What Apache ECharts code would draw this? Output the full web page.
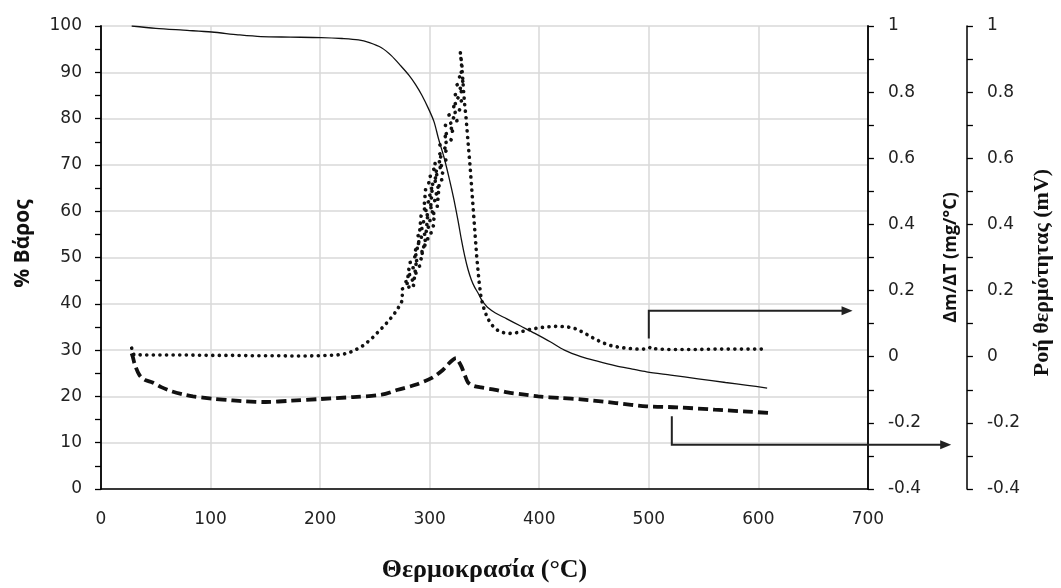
<!DOCTYPE html>
<html>
<head>
<meta charset="utf-8">
<script src="https://cdn.jsdelivr.net/npm/echarts@6/dist/echarts.min.js"></script>
<style>
html,body{margin:0;padding:0;background:#fff;}
#chart{width:1061px;height:588px;}
</style>
</head>
<body>
<div id="chart"></div>
<script>
// ---- Data ----
// TG curve: % weight vs temperature (left axis)
const tgTemp = [28, 50, 75, 101, 125, 146, 173, 201, 220, 235, 245, 256, 265, 274, 281, 287, 293, 299, 304, 308, 313, 317, 320, 323, 326, 329, 332, 335, 338, 341, 344, 347, 350, 353, 360, 370, 383, 396, 410, 423, 438, 453, 470, 485, 498, 520, 545, 570, 590, 608];
const tgWeight = [100, 99.5, 99.1, 98.7, 98.1, 97.7, 97.6, 97.5, 97.3, 97.0, 96.4, 95.3, 93.6, 91.3, 89.4, 87.4, 85.0, 82.1, 79.3, 75.7, 71.7, 67.9, 64.8, 61.5, 57.8, 53.8, 50.3, 47.4, 45.2, 43.6, 42.4, 41.0, 40.0, 39.2, 38.0, 36.8, 35.2, 33.6, 31.8, 30.0, 28.6, 27.6, 26.6, 25.9, 25.3, 24.6, 23.8, 23.0, 22.4, 21.8];

// DTG curve: Δm/ΔT (mg/°C) (first right axis); the noisy peak region is traced as a scattered band
const dtgTemp = [28, 30, 40, 60, 80, 100, 120, 140, 160, 180, 200, 215, 225, 232, 240, 248, 256, 263, 270, 275,
  275, 286, 276, 288, 278, 290, 280, 292, 282, 293, 284, 296, 285, 298, 287, 300, 288, 302, 289, 304, 290, 305, 292, 306, 293, 307, 294, 309, 295, 310, 296, 311, 298, 311, 300, 312, 302, 313, 304, 315,
  307, 317, 309, 320, 312, 323, 314, 326, 317, 328, 320, 330, 322, 331, 324, 331, 326, 330,
  328, 330, 331, 332, 333, 335, 337, 339, 341, 343, 345, 347, 350, 353, 357, 362, 368, 375, 383, 392, 401, 410, 418, 426, 434, 442, 450, 458, 466, 474, 482, 490, 498, 500, 502, 506, 515, 530, 545, 560, 575, 590, 607];
const dtgValue = [0.026, 0.006, 0.005, 0.005, 0.005, 0.004, 0.004, 0.003, 0.003, 0.002, 0.003, 0.005, 0.01, 0.02, 0.035, 0.058, 0.085, 0.11, 0.14, 0.17,
  0.205, 0.215, 0.225, 0.235, 0.245, 0.255, 0.265, 0.275, 0.285, 0.295, 0.305, 0.315, 0.325, 0.335, 0.345, 0.355, 0.365, 0.375, 0.385, 0.395, 0.405, 0.415, 0.425, 0.435, 0.445, 0.455, 0.465, 0.475, 0.485, 0.495, 0.505, 0.515, 0.525, 0.535, 0.545, 0.555, 0.565, 0.575, 0.585, 0.595,
  0.61, 0.625, 0.64, 0.655, 0.67, 0.685, 0.7, 0.715, 0.73, 0.745, 0.76, 0.775, 0.79, 0.805, 0.82, 0.835, 0.85, 0.865,
  0.92, 0.85, 0.8, 0.76, 0.73, 0.65, 0.57, 0.48, 0.39, 0.3, 0.23, 0.175, 0.14, 0.115, 0.095, 0.08, 0.072, 0.07, 0.075, 0.083, 0.088, 0.091, 0.092, 0.09, 0.084, 0.07, 0.055, 0.042, 0.033, 0.028, 0.025, 0.023, 0.023, 0.025, 0.03, 0.024, 0.022, 0.022, 0.022, 0.023, 0.023, 0.023, 0.023];

// DTA curve: heat flow (mV) (second right axis)
const dtaTemp = [28, 29, 31, 35, 40, 47, 55, 65, 75, 84, 102, 120, 132, 150, 174, 200, 230, 256, 271, 287, 302, 312, 317, 321, 324, 326, 329, 332, 335, 340, 347, 360, 371, 385, 399, 420, 438, 470, 498, 526, 560, 590, 610];
const dtaValue = [0.01, 0, -0.025, -0.055, -0.07, -0.078, -0.092, -0.105, -0.114, -0.12, -0.127, -0.132, -0.135, -0.137, -0.133, -0.128, -0.122, -0.115, -0.1, -0.085, -0.064, -0.04, -0.022, -0.01, -0.004, -0.012, -0.03, -0.055, -0.078, -0.088, -0.093, -0.1, -0.108, -0.114, -0.12, -0.125, -0.129, -0.14, -0.15, -0.153, -0.16, -0.166, -0.17];

// Annotation arrows (temperature, value on the Δm/ΔT axis scale)
const arrowDtgTemp = [500, 500, 686];
const arrowDtgValue = [0.055, 0.139, 0.139];
const arrowDtaTemp = [521, 521, 776];
const arrowDtaValue = [-0.18, -0.266, -0.266];

// Axis labels
const xName = 'Θερμοκρασία (°C)';
const yLeftName = '% Βάρος';
const yRight1Name = 'Δm/ΔT (mg/°C)';
const yRight2Name = 'Ροή θερμότητας (mV)';

// ---- Build ----
const zip = (a, b) => a.map((v, i) => [v, b[i]]);

const labelFont = { fontFamily: 'DejaVu Sans', fontSize: 17, color: '#222' };
const tickStyle = { show: true, length: 6, inside: false, lineStyle: { color: '#000', width: 1.3 } };
const minorTickStyle = { show: true, splitNumber: 2, length: 6, lineStyle: { color: '#000', width: 1.3 } };

const chart = echarts.init(document.getElementById('chart'), null, { renderer: 'canvas' });
chart.setOption({
  animation: false,
  backgroundColor: '#fff',
  grid: { left: 101, right: 188, top: 26, bottom: 92, containLabel: false },
  xAxis: {
    type: 'value', min: 0, max: 700, interval: 100,
    name: xName, nameLocation: 'middle', nameGap: 68,
    nameTextStyle: { fontFamily: 'Liberation Serif', fontWeight: 'bold', fontSize: 26, color: '#111' },
    axisLine: { show: true, lineStyle: { color: '#000', width: 1.5 } },
    axisTick: { show: false },
    axisLabel: Object.assign({ margin: 22 }, labelFont),
    splitLine: { show: true, lineStyle: { color: '#d9d9d9', width: 1.5 } }
  },
  yAxis: [
    {
      type: 'value', min: 0, max: 100, interval: 10, position: 'left',
      name: yLeftName, nameLocation: 'middle', nameGap: 67, nameRotate: 90,
      nameTextStyle: { fontFamily: 'Open Sans', fontWeight: 'bold', fontSize: 21, color: '#111', padding: [0, 0, 0, 28] },
      axisLine: { show: true, lineStyle: { color: '#000', width: 1.8 } },
      axisTick: tickStyle, minorTick: minorTickStyle,
      axisLabel: Object.assign({ margin: 19 }, labelFont),
      splitLine: { show: true, lineStyle: { color: '#d9d9d9', width: 1.5 } }
    },
    {
      type: 'value', min: -0.4, max: 1, interval: 0.2, position: 'right',
      name: yRight1Name, nameLocation: 'middle', nameGap: 74, nameRotate: 90,
      nameTextStyle: { fontFamily: 'Open Sans', fontWeight: 'bold', fontSize: 18, color: '#111' },
      axisLine: { show: true, onZero: false, lineStyle: { color: '#000', width: 1.8 } },
      axisTick: tickStyle, minorTick: minorTickStyle,
      axisLabel: Object.assign({ margin: 20 }, labelFont),
      splitLine: { show: false }
    },
    {
      type: 'value', min: -0.4, max: 1, interval: 0.2, position: 'right', offset: 99,
      name: yRight2Name, nameLocation: 'middle', nameGap: 61, nameRotate: 90,
      nameTextStyle: { fontFamily: 'Liberation Serif', fontWeight: 'bold', fontSize: 22, color: '#111', padding: [0, 30, 0, 0] },
      axisLine: { show: true, onZero: false, lineStyle: { color: '#000', width: 1.5 } },
      axisTick: tickStyle, minorTick: minorTickStyle,
      axisLabel: Object.assign({ margin: 20 }, labelFont),
      splitLine: { show: false }
    }
  ],
  series: [
    {
      name: 'TG', type: 'line', xAxisIndex: 0, yAxisIndex: 0,
      data: zip(tgTemp, tgWeight), showSymbol: false, smooth: 0.3,
      lineStyle: { color: '#111', width: 1.3 }
    },
    {
      name: 'DTG', type: 'line', xAxisIndex: 0, yAxisIndex: 1,
      data: zip(dtgTemp, dtgValue), showSymbol: false,
      lineStyle: { color: '#111', width: 3.6, type: [0.1, 6.5], cap: 'round', join: 'round' }
    },
    {
      name: 'DTA', type: 'line', xAxisIndex: 0, yAxisIndex: 2,
      data: zip(dtaTemp, dtaValue), showSymbol: false, smooth: 0.3,
      lineStyle: { color: '#111', width: 3.8, type: [10, 5] }
    }
  ]
});

// Arrows: positions come from the chart's own scales
function arrowGraphic(xs, ys) {
  const pts = xs.map((x, i) => chart.convertToPixel({ xAxisIndex: 0, yAxisIndex: 1 }, [x, ys[i]]));
  const tip = pts[pts.length - 1];
  const headLen = 11, headHalf = 4.5;
  const linePts = pts.slice(0, -1).concat([[tip[0] - headLen + 1, tip[1]]]);
  return [
    { type: 'polyline', shape: { points: linePts }, style: { stroke: '#222', lineWidth: 2, fill: null }, z: 100 },
    { type: 'polygon', shape: { points: [[tip[0], tip[1]], [tip[0] - headLen, tip[1] - headHalf], [tip[0] - headLen, tip[1] + headHalf]] }, style: { fill: '#222' }, z: 100 }
  ];
}
chart.setOption({
  graphic: arrowGraphic(arrowDtgTemp, arrowDtgValue).concat(arrowGraphic(arrowDtaTemp, arrowDtaValue))
});
</script>
</body>
</html>
